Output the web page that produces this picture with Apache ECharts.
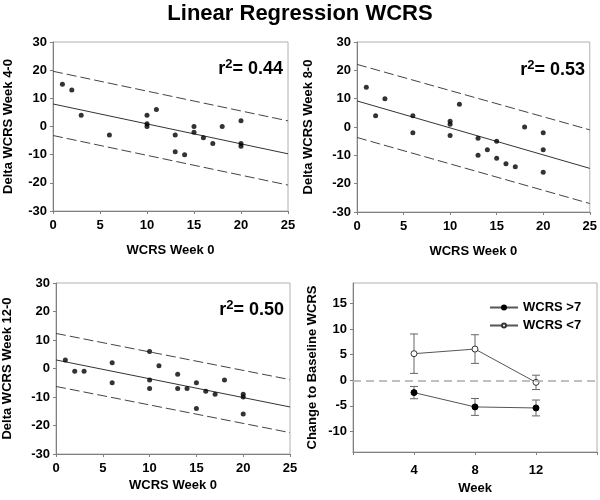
<!DOCTYPE html>
<html><head><meta charset="utf-8">
<script src="https://cdn.jsdelivr.net/npm/echarts@6/dist/echarts.min.js"></script>
<style>html,body{margin:0;padding:0;background:#fff}#c{width:600px;height:500px}</style>
</head><body><div id="c"></div>
<script>
// ---- Data ----
const title = 'Linear Regression WCRS';
const fitX = [0, 25];

const x1 = [1, 2, 3, 6, 10, 10, 10, 11, 13, 13, 14, 15, 15, 16, 17, 18, 20, 20, 20];
const y1 = [15, 13, 4, -3, 4, 1, 0, 6, -3, -9, -10, 0, -2, -4, -6, 0, 2, -6, -7];
const fit1 = [8, -9.7];
const upper1 = [19.6, 2];
const lower1 = [-3.2, -20.8];
const r2_1 = '0.44';

const x2 = [1, 2, 3, 6, 6, 10, 10, 10, 11, 13, 13, 14, 15, 15, 16, 17, 18, 20, 20, 20];
const y2 = [14, 4, 10, 4, -2, 2, 1, -3, 8, -4, -10, -8, -5, -11, -13, -14, 0, -2, -8, -16];
const fit2 = [9.2, -14.6];
const upper2 = [22.1, -1];
const lower2 = [-3.7, -27];
const r2_2 = '0.53';

const x3 = [1, 2, 3, 6, 6, 10, 10, 10, 11, 13, 13, 14, 15, 15, 16, 17, 18, 20, 20, 20];
const y3 = [3, -1, -1, 2, -5, 6, -4, -7, 1, -2, -7, -7, -5, -14, -8, -9, -4, -9, -10, -16];
const fit3 = [3, -13.5];
const upper3 = [12.3, -3.9];
const lower3 = [-6.3, -22.5];
const r2_3 = '0.50';

const weeks = [4, 8, 12];
const highName = 'WCRS >7';
const highMean = [-2.4, -5.2, -5.4];
const highErr = [1.2, 1.65, 1.55];
const lowName = 'WCRS <7';
const lowMean = [5.2, 6.1, -0.4];
const lowErr = [3.85, 2.8, 1.4];
const yTicks4 = [-10, -5, 0, 5, 10, 15];

// ---- Styles ----
const FONT = '"Liberation Sans", Arial, sans-serif';
const AX = '#808080';
const lbl = {color: '#000', fontWeight: 'bold', fontSize: 13, fontFamily: FONT};
const nameStyle = {color: '#000', fontWeight: 'bold', fontSize: 13, fontFamily: FONT};

const grids = [
  {left: 53, top: 42, width: 235, height: 169},
  {left: 357, top: 42, width: 235, height: 170},
  {left: 53, top: 283, width: 237, height: 171},
  {left: 353, top: 283, width: 244, height: 169}
].map(g => Object.assign({show: true, borderColor: '#b0b0b0', borderWidth: 1, backgroundColor: 'transparent'}, g));

function scatterX(i, gap) {
  return {gridIndex: i, type: 'value', min: 0, max: 25, interval: 5,
    name: 'WCRS Week 0', nameLocation: 'middle', nameGap: gap, nameTextStyle: nameStyle,
    axisLine: {onZero: false, lineStyle: {color: AX}}, axisTick: {inside: false, length: 3, lineStyle: {color: AX}},
    axisLabel: Object.assign({margin: 8}, lbl), splitLine: {show: false}};
}
function scatterY(i, name, gap) {
  return {gridIndex: i, type: 'value', min: -30, max: 30, interval: 10,
    name: name, nameLocation: 'middle', nameGap: gap, nameTextStyle: nameStyle,
    axisLine: {show: true, onZero: false, lineStyle: {color: AX}}, axisTick: {show: true, length: 3, lineStyle: {color: AX}},
    axisLabel: Object.assign({margin: 6}, lbl), splitLine: {show: false}};
}
const zip = (a, b) => a.map((v, k) => [v, b[k]]);

function regSeries(i, xs, ys, fit, up, lo) {
  return [
    {type: 'scatter', xAxisIndex: i, yAxisIndex: i, data: zip(xs, ys), symbolSize: 5, itemStyle: {color: '#000'}, silent: true, z: 5},
    {type: 'line', xAxisIndex: i, yAxisIndex: i, data: zip(fitX, fit), symbol: 'none', lineStyle: {color: '#333', width: 1}, silent: true},
    {type: 'line', xAxisIndex: i, yAxisIndex: i, data: zip(fitX, up), symbol: 'none', lineStyle: {color: '#444', width: 1, type: [10, 4]}, silent: true},
    {type: 'line', xAxisIndex: i, yAxisIndex: i, data: zip(fitX, lo), symbol: 'none', lineStyle: {color: '#444', width: 1, type: [10, 4]}, silent: true}
  ];
}

function errSeries(mean, err) {
  return {type: 'custom', xAxisIndex: 3, yAxisIndex: 3, silent: true, z: 1,
    data: weeks.map((w, k) => [w, mean[k] - err[k], mean[k] + err[k]]),
    renderItem: function (params, api) {
      const lo = api.coord([api.value(0), api.value(1)]);
      const hi = api.coord([api.value(0), api.value(2)]);
      const hw = 4;
      const st = {stroke: '#666', lineWidth: 1};
      return {type: 'group', children: [
        {type: 'line', shape: {x1: lo[0], y1: lo[1], x2: hi[0], y2: hi[1]}, style: st},
        {type: 'line', shape: {x1: lo[0] - hw, y1: lo[1], x2: lo[0] + hw, y2: lo[1]}, style: st},
        {type: 'line', shape: {x1: hi[0] - hw, y1: hi[1], x2: hi[0] + hw, y2: hi[1]}, style: st}
      ]};
    }};
}

function r2Title(right, top, val) {
  return {text: '{a|r}{b|2}{a|= ' + val + '}', right: right, top: top,
    textStyle: {rich: {
      a: {fontSize: 18, fontWeight: 'bold', color: '#000', fontFamily: FONT, verticalAlign: 'bottom', lineHeight: 20},
      b: {fontSize: 13, fontWeight: 'bold', color: '#000', fontFamily: FONT, verticalAlign: 'top', padding: [0, 0, 8, 0], lineHeight: 20}
    }}};
}

const option = {
  animation: false,
  backgroundColor: '#fff',
  title: [
    {text: title, left: 'center', top: -2, textStyle: {fontSize: 22, fontWeight: 'bold', color: '#000', fontFamily: FONT}},
    r2Title(312, 53, r2_1),
    r2Title(10, 54, r2_2),
    r2Title(311, 294, r2_3)
  ],
  legend: {
    orient: 'vertical', left: 484, top: 296, itemWidth: 28, itemHeight: 5, itemGap: 5,
    data: [highName, lowName],
    textStyle: {fontSize: 13, fontWeight: 'bold', color: '#000', fontFamily: FONT}
  },
  grid: grids,
  xAxis: [
    scatterX(0, 33), scatterX(1, 33), scatterX(2, 25),
    {gridIndex: 3, type: 'value', min: 0, max: 16, interval: 4,
      name: 'Week', nameLocation: 'middle', nameGap: 30, nameTextStyle: nameStyle,
      axisLine: {onZero: false, lineStyle: {color: AX}}, axisTick: {length: 3, lineStyle: {color: AX}},
      axisLabel: Object.assign({margin: 12, formatter: v => (v === 0 || v === 16) ? '' : String(v)}, lbl),
      splitLine: {show: false}}
  ],
  yAxis: [
    scatterY(0, 'Delta WCRS Week 4-0', 38), scatterY(1, 'Delta WCRS Week 8-0', 42), scatterY(2, 'Delta WCRS Week 12-0', 42),
    {gridIndex: 3, type: 'value', min: -14, max: 19,
      name: 'Change to Baseline WCRS', nameLocation: 'middle', nameGap: 34, nameTextStyle: nameStyle,
      axisLine: {show: true, onZero: false, lineStyle: {color: AX}},
      axisTick: {show: true, length: 3, lineStyle: {color: AX}, customValues: yTicks4},
      axisLabel: Object.assign({margin: 6, customValues: yTicks4}, lbl),
      splitLine: {show: false}}
  ],
  series: [
    ...regSeries(0, x1, y1, fit1, upper1, lower1),
    ...regSeries(1, x2, y2, fit2, upper2, lower2),
    ...regSeries(2, x3, y3, fit3, upper3, lower3),
    errSeries(highMean, highErr),
    errSeries(lowMean, lowErr),
    {name: highName, type: 'line', xAxisIndex: 3, yAxisIndex: 3, data: zip(weeks, highMean),
      symbol: 'circle', symbolSize: 6, showSymbol: true,
      itemStyle: {color: '#000', borderColor: '#000', borderWidth: 1}, lineStyle: {color: '#555', width: 1}, z: 3,
      markLine: {silent: true, symbol: 'none', label: {show: false}, lineStyle: {color: '#aaa', width: 1.5, type: [8, 5]}, data: [{yAxis: 0}]}},
    {name: lowName, type: 'line', xAxisIndex: 3, yAxisIndex: 3, data: zip(weeks, lowMean),
      symbol: 'circle', symbolSize: 6, showSymbol: true,
      itemStyle: {color: '#fff', borderColor: '#333', borderWidth: 1}, lineStyle: {color: '#555', width: 1}, z: 3}
  ]
};
echarts.init(document.getElementById('c'), null, {renderer: 'canvas'}).setOption(option);
</script>
</body></html>
